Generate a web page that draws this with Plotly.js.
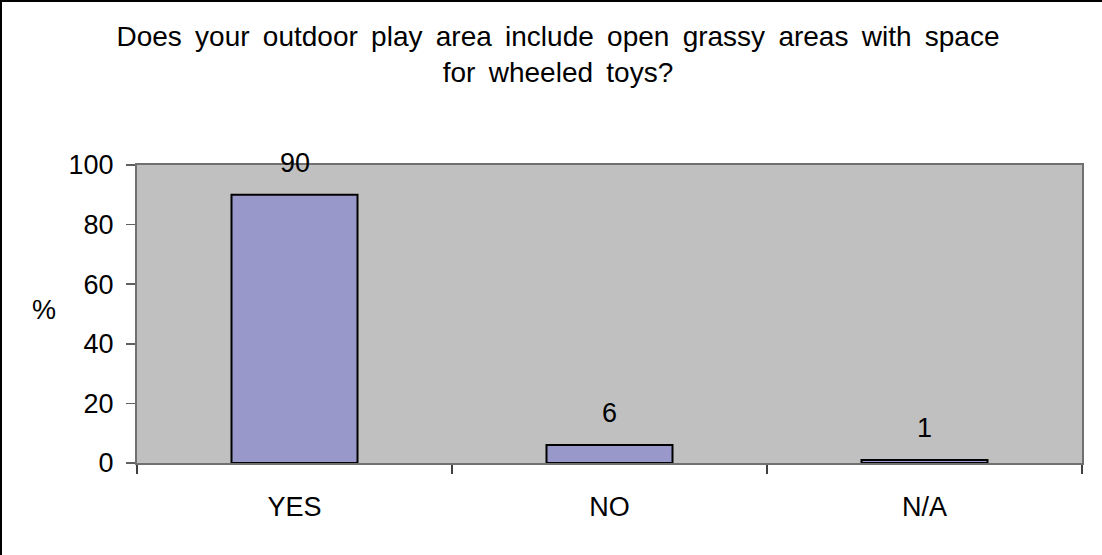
<!DOCTYPE html>
<html>
<head>
<meta charset="utf-8">
<script src="https://cdn.plot.ly/plotly-3.0.1.min.js"></script>
<style>
html, body { margin: 0; padding: 0; background: #ffffff; }
#chart { width: 1102px; height: 555px; }
#chart .gtitle { word-spacing: 5.5px; }
</style>
</head>
<body>
<div id="chart"></div>
<script>
const categories = ["YES", "NO", "N/A"];
const values = [90, 6, 1];
const yTicks = [0, 20, 40, 60, 80, 100];
const titleText = "Does your outdoor play area include open grassy areas with space<br>for wheeled toys?";
const yLabel = "%";

const W = 1102, H = 555;
const mL = 137, mR = 20, mT = 165, mB = 92;
const pw = W - mL - mR, ph = H - mT - mB;
const FONT = "Liberation Sans, Arial, sans-serif";
const FS = 27;

const trace = {
  type: "bar",
  x: categories,
  y: values,
  width: 0.4,
  marker: { color: "#9898CA", line: { color: "#000000", width: 2 } },
  hoverinfo: "none"
};

const annotations = categories.map((c, i) => ({
  x: c, y: values[i], xref: "x", yref: "y",
  text: String(values[i]), showarrow: false,
  yanchor: "bottom", yshift: 15,
  font: { family: FONT, size: FS, color: "#000000" }
}));
annotations.push({
  xref: "paper", yref: "paper",
  x: (43.5 - mL) / pw, y: (H - mB - 310) / ph,
  xanchor: "center", yanchor: "middle",
  text: yLabel, showarrow: false,
  font: { family: FONT, size: FS, color: "#000000" }
});

const shapes = [
  { type: "line", xref: "paper", yref: "paper",
    x0: (1 - mL) / pw, x1: (1 - mL) / pw, y0: (H - mB - H - 5) / ph, y1: (H - mB - 0) / ph,
    line: { color: "#000000", width: 2 } },
  { type: "line", xref: "paper", yref: "paper",
    x0: (0 - mL) / pw, x1: (W + 5 - mL) / pw, y0: (H - mB - 1) / ph, y1: (H - mB - 1) / ph,
    line: { color: "#000000", width: 2 } }
];

const layout = {
  width: W, height: H,
  margin: { l: mL, r: mR, t: mT, b: mB, pad: 0 },
  paper_bgcolor: "#ffffff",
  plot_bgcolor: "#C0C0C0",
  showlegend: false,
  font: { family: FONT, size: FS, color: "#000000" },
  title: {
    text: titleText,
    xref: "container", yref: "container",
    x: 558 / W, y: 1 - 46 / H,
    xanchor: "center", yanchor: "top",
    font: { family: FONT, size: 28, color: "#000000" }
  },
  xaxis: {
    type: "category",
    showgrid: false, zeroline: false,
    showline: true, linecolor: "#707070", linewidth: 2, mirror: true,
    ticks: "outside", tickson: "boundaries", ticklen: 9, tickcolor: "#404040", tickwidth: 1.5,
    ticklabelstandoff: 19,
    tickfont: { family: FONT, size: FS, color: "#000000" }
  },
  yaxis: {
    range: [0, 100],
    tickvals: yTicks,
    showgrid: false, zeroline: false,
    showline: true, linecolor: "#707070", linewidth: 2, mirror: true,
    ticks: "outside", ticklen: 9, tickcolor: "#606060", tickwidth: 1.5,
    ticklabelstandoff: 7,
    tickfont: { family: FONT, size: FS, color: "#000000" }
  },
  annotations: annotations,
  shapes: shapes
};

Plotly.newPlot("chart", [trace], layout, { displayModeBar: false, staticPlot: true });
</script>
</body>
</html>
